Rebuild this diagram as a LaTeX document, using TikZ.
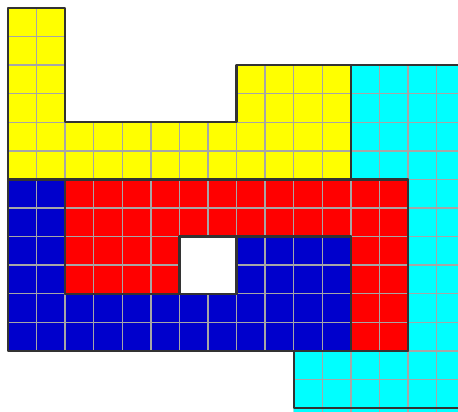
\documentclass[tikz,border=0pt]{standalone}
\definecolor{tileblue}{RGB}{0,0,204}
\definecolor{tileyellow}{RGB}{255,255,0}
\definecolor{tilecyan}{RGB}{0,255,255}
\definecolor{tilered}{RGB}{255,0,0}
\newcommand{\tilepiece}[2]{%
  \fill[#1] #2;
  \begin{scope}
    \clip #2;
    \draw[gridline] (-1,-1) grid (17,15);
  \end{scope}}
\begin{document}
\begin{tikzpicture}[x=0.5cm,y=0.5cm,line join=round,line cap=round]
	\tikzset{outline/.style={draw=black!80,line width=1.1pt},
		gridline/.style={draw=gray!70,line width=0.7pt,step=0.5cm}}
	\clip (-0.28,-0.14) rectangle (15.75,14.28);
	\tilepiece{tileyellow}{(0,14)--(2,14)--(2,10)--(8,10)--(8,12)--(12,12)--(12,8)--(0,8)--cycle}
	\tilepiece{tilecyan}{(12,12)--(17,12)--(17,-1)--(10,-1)--(10,0)--(10,2)--(14,2)--(14,8)--(12,8)--cycle}
	\tilepiece{tileblue}{(0,8)--(2,8)--(2,4)--(8,4)--(8,6)--(12,6)--(12,2)--(0,2)--cycle}
	\tilepiece{tilered}{(2,8)--(14,8)--(14,2)--(12,2)--(12,6)--(6,6)--(6,4)--(2,4)--cycle}
	\draw[outline] (0,14)--(2,14)--(2,10)--(8,10)--(8,12)--(12,12)--(12,8)--(0,8)--cycle;
	\draw[outline] (12,12)--(17,12)--(17,0)--(10,0)--(10,2)--(14,2)--(14,8)--(12,8)--cycle;
	\draw[outline] (0,8)--(2,8)--(2,4)--(8,4)--(8,6)--(12,6)--(12,2)--(0,2)--cycle;
	\draw[outline] (2,8)--(14,8)--(14,2)--(12,2)--(12,6)--(6,6)--(6,4)--(2,4)--cycle;
\end{tikzpicture}
\end{document}
